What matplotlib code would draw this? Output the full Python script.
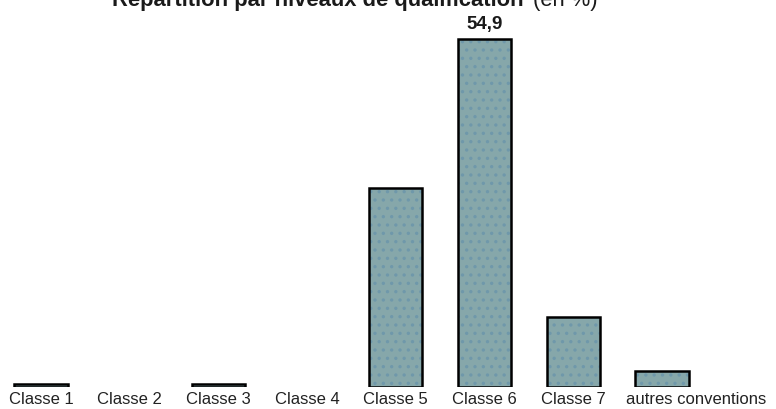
import matplotlib.pyplot as plt
import matplotlib.transforms as mtransforms

categories = ["Classe 1", "Classe 2", "Classe 3", "Classe 4", "Classe 5",
              "Classe 6", "Classe 7", "autres conventions"]
values = [0.4, 0.0, 0.4, 0.0, 31.4, 54.9, 11.0, 2.5]
labelled = {5: "54,9"}

plt.rcParams['font.family'] = ['Liberation Sans', 'DejaVu Sans']
plt.rcParams['hatch.linewidth'] = 1.2

fig = plt.figure(figsize=(7.76, 4.10), dpi=100)
ax = fig.add_axes([0, 22 / 410, 1, 388 / 410])

x = list(range(len(categories)))
# empty classes get no bar at all
xs = [i for i in x if values[i] > 0]
vs = [values[i] for i in xs]
# dotted fill first (hatch takes the edge colour), then the black outline
ax.bar(xs, vs, width=0.6, color='#86a7aa', edgecolor='#6f98aa',
       linewidth=0, hatch='..')
ax.bar(xs, vs, width=0.6, fill=False, edgecolor='black', linewidth=1.8)

for i, txt in labelled.items():
    ax.text(i, values[i] + 1.1, txt, ha='center', va='bottom',
            fontsize=13.5, fontweight='bold', color='#1a1a1a')

ax.set_xlim(-0.462, 8.286)
ax.set_ylim(0, 61.2)
ax.set_xticks(x)
ax.set_xticklabels(categories, fontsize=12, color='#222222')
ax.tick_params(axis='x', length=0, pad=3)
ax.set_yticks([])
for s in ax.spines.values():
    s.set_visible(False)

# last label sits a bit to the right of its bar
lbl = ax.get_xticklabels()[-1]
lbl.set_transform(lbl.get_transform() +
                  mtransforms.ScaledTranslation(0.34, 0, fig.dpi_scale_trans))

fig.text(112 / 776, 1 - 6 / 410, "Répartition par niveaux de qualification",
         ha='left', va='baseline', fontsize=15.8, fontweight='bold',
         color='#1a1a1a')
fig.text(533 / 776, 1 - 6 / 410, "(en %)", ha='left', va='baseline',
         fontsize=15.8, color='#1a1a1a')

fig.savefig("out.png", dpi=100)
